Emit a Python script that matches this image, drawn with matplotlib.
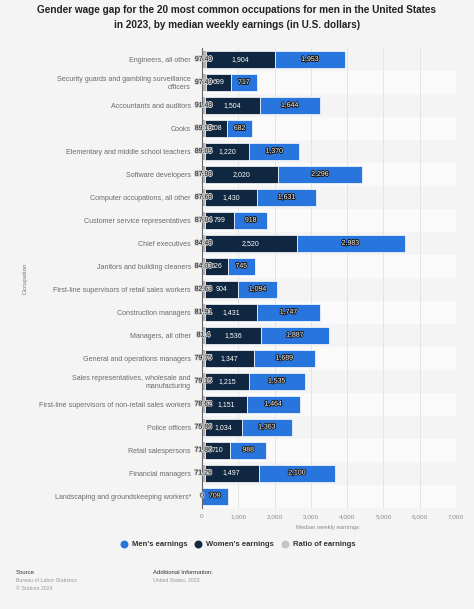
import matplotlib
matplotlib.use("Agg")
import matplotlib.pyplot as plt
import matplotlib.patheffects as pe
import numpy as np

plt.rcParams['font.family'] = ['Liberation Sans', 'DejaVu Sans']

occupations = [
    "Engineers, all other",
    "Security guards and gambling surveillance\nofficers",
    "Accountants and auditors",
    "Cooks",
    "Elementary and middle school teachers",
    "Software developers",
    "Computer occupations, all other",
    "Customer service representatives",
    "Chief executives",
    "Janitors and building cleaners",
    "First-line supervisors of retail sales workers",
    "Construction managers",
    "Managers, all other",
    "General and operations managers",
    "Sales representatives, wholesale and\nmanufacturing",
    "First-line supervisors of non-retail sales workers",
    "Police officers",
    "Retail salespersons",
    "Financial managers",
    "Landscaping and groundskeeping workers*",
]
ratio = [97.49, 97.49, 91.48, 89.15, 89.05, 87.98, 87.68, 87.04, 84.48, 84.03,
         82.63, 81.91, 81.4, 79.75, 79.15, 78.62, 75.86, 71.86, 71.29, 0]
women = [1904, 699, 1504, 608, 1220, 2020, 1430, 799, 2520, 626,
         904, 1431, 1536, 1347, 1215, 1151, 1034, 710, 1497, 0]
men = [1953, 717, 1644, 682, 1370, 2296, 1631, 918, 2983, 745,
       1094, 1747, 1887, 1689, 1535, 1464, 1363, 988, 2100, 709]
xticks = [0, 1000, 2000, 3000, 4000, 5000, 6000, 7000]

C_MEN = "#2876dd"
C_WOMEN = "#0f2741"
C_RATIO = "#b4b4b4"
BG = "#f4f4f4"

W, H = 474, 609
fig = plt.figure(figsize=(W / 100, H / 100), dpi=100, facecolor=BG)
ax = fig.add_axes([202 / W, 1 - 507.5 / H, 254 / W, 459.5 / H])
ax.set_facecolor(BG)

y = np.arange(len(occupations))
ratio_a = np.array(ratio, dtype=float)
women_a = np.array(women, dtype=float)
men_a = np.array(men, dtype=float)

for i in y:
    if i % 2 == 1:
        ax.axhspan(i - 0.5, i + 0.5, color="white", alpha=0.55, lw=0, zorder=0)

bh = 0.74
ax.barh(y, ratio_a, height=bh, color=C_RATIO, zorder=3)
ax.barh(y, women_a, left=ratio_a, height=bh, color=C_WOMEN, edgecolor="white", lw=0.5, zorder=3)
ax.barh(y, men_a, left=ratio_a + women_a, height=bh, color=C_MEN, edgecolor="white", lw=0.5, zorder=3)

fs = 5
for i in y:
    r, w, m = ratio_a[i], women_a[i], men_a[i]
    if w > 0:
        ax.text(r + w / 2, i, f"{int(w):,}", ha="center", va="center",
                color="white", fontsize=fs, zorder=5)
    ax.text(r + w + m / 2, i, f"{int(m):,}", ha="center", va="center",
            color="white", fontsize=fs, zorder=5,
            path_effects=[pe.withStroke(linewidth=1.3, foreground="#1a1a1a")])
    ax.text(r / 2, i, f"{ratio[i]:g}", ha="center", va="center",
            color="#111111", fontsize=fs, zorder=6,
            path_effects=[pe.withStroke(linewidth=1.3, foreground="#cfcfcf")])

ax.set_xlim(0, 7000)
ax.set_ylim(len(occupations) - 0.5, -0.5)
ax.set_xticks(xticks)
ax.set_xticklabels([f"{t:,}" for t in xticks])
ax.set_yticks(y)
ax.set_yticklabels(occupations)
ax.tick_params(axis="y", length=0, pad=8, labelsize=5.1, labelcolor="#6b6b6b")
ax.tick_params(axis="x", length=0, pad=5, labelsize=4.6, labelcolor="#8a8a8a")
ax.grid(axis="x", color="#e2e2e2", lw=0.6, zorder=1)
ax.set_axisbelow(True)
for s in ["top", "right", "bottom"]:
    ax.spines[s].set_visible(False)
ax.spines["left"].set_color("#666666")
ax.spines["left"].set_linewidth(0.8)
ax.spines["left"].set_zorder(4)

# overlay for texts
ov = fig.add_axes([0, 0, 1, 1], facecolor="none")
ov.set_xlim(0, W)
ov.set_ylim(H, 0)
ov.axis("off")

ov.text(237, 10, "Gender wage gap for the 20 most common occupations for men in the United States",
        ha="center", va="center", fontsize=7.2, fontweight="bold", color="#222222")
ov.text(237, 25, "in 2023, by median weekly earnings (in U.S. dollars)",
        ha="center", va="center", fontsize=7.2, fontweight="bold", color="#222222")

ov.text(25, 278, "Occupation", rotation=90, ha="center", va="center", fontsize=4.5, color="#777777")
ov.text(328, 528, "Median weekly earnings", ha="center", va="center", fontsize=4.2, color="#8a8a8a")

for cx, col, lab in [(124, C_MEN, "Men's earnings"), (198, C_WOMEN, "Women's earnings"),
                     (285, "#c4c4c4", "Ratio of earnings")]:
    ov.scatter([cx], [544], s=22, color=col, zorder=5)
    ov.text(cx + 8, 544.5, lab, ha="left", va="center", fontsize=5.5, fontweight="bold", color="#333333")

ov.text(16, 572, "Source", ha="left", va="center", fontsize=4.3, color="#333333")
ov.text(16, 580, "Bureau of Labor Statistics", ha="left", va="center", fontsize=3.8, color="#9a9a9a")
ov.text(16, 588, "© Statista 2024", ha="left", va="center", fontsize=3.8, color="#9a9a9a")
ov.text(153, 572, "Additional Information:", ha="left", va="center", fontsize=4.3, color="#333333")
ov.text(153, 580, "United States; 2023", ha="left", va="center", fontsize=3.8, color="#9a9a9a")

fig.savefig("out.png", dpi=100, facecolor=BG)
